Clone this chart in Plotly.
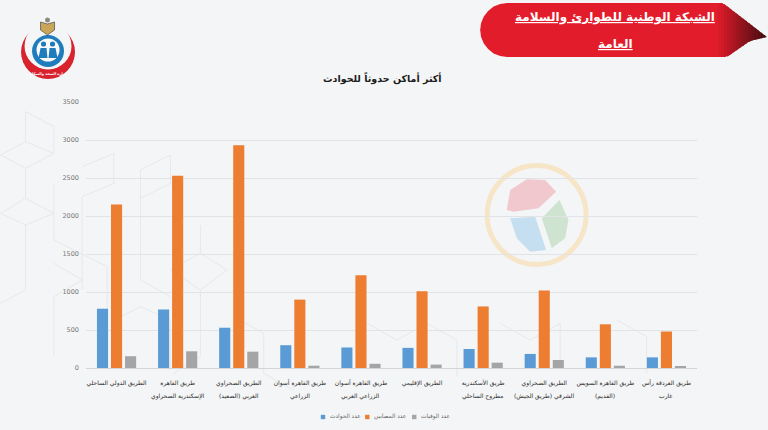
import math
import plotly.graph_objects as go

categories = [
    "الطريق الدولي الساحلي",
    "طريق القاهرة<br>الإسكندرية الصحراوي",
    "الطريق الصحراوي<br>الغربي (الصعيد)",
    "طريق القاهرة أسوان<br>الزراعي",
    "طريق القاهرة أسوان<br>الزراعي الغربي",
    "الطريق الإقليمي",
    "طريق الأسكندرية<br>مطروح الساحلي",
    "الطريق الصحراوي<br>الشرقي (طريق الجيش)",
    "طريق القاهرة السويس<br>(القديم)",
    "طريق الغردقة رأس<br>غارب",
]
incidents = [780, 770, 530, 300, 270, 265, 250, 185, 140, 140]
injured = [2150, 2530, 2930, 900, 1220, 1010, 810, 1020, 575, 480]
deaths = [155, 220, 215, 30, 55, 45, 70, 105, 30, 20]
series_names = ["عدد الحوادث", "عدد المصابين", "عدد الوفيات"]
series_colors = ["#5b9bd5", "#ed7d31", "#a5a5a5"]
y_ticks = [0, 500, 1000, 1500, 2000, 2500, 3000, 3500]

W, H = 768, 430
L, R, T, B = 85.5, 697, 102, 368
FONT = "DejaVu Sans"
BG = "#f4f5f6"


def px(x):
    return (x - L) / (R - L)


def py(y):
    return (B - y) / (B - T)


def path(points, closed=True, **kw):
    d = "M" + " L".join(f"{px(x):.4f},{py(y):.4f}" for x, y in points) + (" Z" if closed else "")
    return dict(type="path", path=d, xref="paper", yref="paper", **kw)


def circle(cx, cy, r, **kw):
    return dict(type="circle", xref="paper", yref="paper",
                x0=px(cx - r), x1=px(cx + r), y0=py(cy + r), y1=py(cy - r), **kw)


def zoomed(points, ox, oy):
    return [(ox + x / 3, oy + y / 3) for x, y in points]


shapes = []

# faint isometric background lines
bg_lines = [
    [(75, 65), (75, 155), (0, 195)],
    [(75, 65), (160, 110), (160, 190), (75, 235), (0, 195)],
    [(75, 155), (160, 190)],
    [(75, 235), (75, 325), (0, 370)],
    [(75, 325), (160, 370), (75, 405), (0, 370)],
    [(75, 405), (75, 600), (0, 640)],
    [(160, 280), (160, 450), (320, 530), (320, 700)],
    [(245, 230), (340, 190), (340, 280), (245, 320), (245, 600)],
    [(420, 240), (510, 195), (510, 280), (420, 325)],
    [(420, 240), (420, 570), (510, 620)],
    [(600, 405), (600, 490), (510, 540), (600, 600), (680, 540), (600, 490)],
    [(160, 520), (245, 570), (160, 620), (160, 800)],
    [(600, 600), (600, 800), (520, 850)],
    [(340, 690), (420, 650), (510, 690), (510, 840)],
    [(700, 680), (790, 730), (790, 850), (880, 900)],
    [(1100, 700), (1190, 750), (1280, 700), (1370, 750), (1370, 860)],
    [(1500, 700), (1590, 750), (1680, 700), (1680, 820)],
    [(1850, 690), (1940, 740), (1940, 850)],
]
for seg in bg_lines:
    shapes.append(path(zoomed(seg, 0, 90), closed=False,
                       line=dict(color="#e7e8ea", width=1), layer="below"))

# watermark
shapes.append(circle(536.5, 215, 49.5, line=dict(color="#f6e5c6", width=5),
                     fillcolor="rgba(0,0,0,0)", layer="below"))
shapes.append(path(zoomed([(110, 180), (120, 120), (170, 88), (225, 90), (258, 125),
                           (205, 175), (130, 185)], 470, 150),
                   fillcolor="#f0c8cd", line=dict(width=0), layer="below"))
shapes.append(path(zoomed([(120, 205), (195, 200), (228, 300), (180, 305), (140, 265)], 470, 150),
                   fillcolor="#c6dff0", line=dict(width=0), layer="below"))
shapes.append(path(zoomed([(268, 150), (295, 210), (285, 265), (245, 295), (215, 205)], 470, 150),
                   fillcolor="#cfe4d0", line=dict(width=0), layer="below"))


# ribbon
def ribbon_top(x):
    return 3 if x <= 723 else 3 + (x - 723) * 34 / 44


def ribbon_bottom(x):
    if x <= 727:
        return 57
    if x <= 750:
        return 57 - (x - 727) * 16 / 23
    return 41 - (x - 750) * 4 / 17


ribbon = [(507, 3), (716, 3), (716, 57), (507, 57)]
for i in range(13):
    a = math.radians(90 + 180 * i / 12)
    ribbon.append((507 + 27 * math.cos(a), 30 + 27 * math.sin(a)))
shapes.append(path(ribbon, fillcolor="#e31c2b", line=dict(width=0), layer="below"))
n_strips = 17
c0, c1 = (227, 28, 43), (70, 12, 16)
x_start, x_end = 715, 767
for i in range(n_strips):
    xa = x_start + (x_end - x_start) * i / n_strips
    xb = min(x_end, x_start + (x_end - x_start) * (i + 1) / n_strips + 1.5)
    t = i / (n_strips - 1)
    col = tuple(round(a + (b - a) * t) for a, b in zip(c0, c1))
    shapes.append(path([(xa, ribbon_top(xa)), (xb, ribbon_top(xb)),
                        (xb, ribbon_bottom(xb)), (xa, ribbon_bottom(xa))],
                       fillcolor=f"rgb{col}", line=dict(width=0), layer="below"))

# logo
LC = "#1f7dbd"
shapes.append(circle(47.5, 52, 27, fillcolor="#d8232e", line=dict(width=0)))
shapes.append(circle(47.5, 46, 23.5, fillcolor=BG, line=dict(width=0)))
shapes.append(circle(47.5, 51, 16, fillcolor=LC, line=dict(width=0)))
shapes.append(circle(47.5, 50, 11.5, fillcolor="#fbfbfb", line=dict(width=0)))
shapes.append(circle(43, 44, 2.6, fillcolor=LC, line=dict(width=0)))
shapes.append(circle(52, 44, 2.6, fillcolor=LC, line=dict(width=0)))
shapes.append(path([(38, 58), (40, 48), (46, 48), (47, 58)], fillcolor=LC, line=dict(width=0)))
shapes.append(path([(48, 58), (49, 48), (55, 48), (57, 58)], fillcolor=LC, line=dict(width=0)))
shapes.append(path([(40, 30), (40, 22), (47, 24), (54, 22), (54, 30), (47, 35)],
                   fillcolor="#c9a65a", line=dict(color="#333333", width=0.6)))
shapes.append(circle(47, 20, 2.5, fillcolor="#8a8a7a", line=dict(width=0)))

fig = go.Figure()
for name, values, color in zip(series_names, [incidents, injured, deaths], series_colors):
    fig.add_trace(go.Bar(name=name, x=categories, y=values, showlegend=False,
                         marker=dict(color=color, line=dict(width=0))))


def note(text, x, y, size, color, xref="paper"):
    return dict(text=text, x=x, y=py(y), xref=xref, yref="paper", xanchor="center",
                yanchor="middle", showarrow=False, font=dict(family=FONT, size=size, color=color))


annotations = [
    note("<b><u>الشبكة الوطنية للطوارئ والسلامة</u></b>", px(615), 18, 12, "white"),
    note("<b><u>العامة</u></b>", px(615), 44, 12, "white"),
    note("<b>أكثر أماكن حدوثاً للحوادث</b>", px(382), 79, 9.5, "#1c1c1c"),
    note("<b>وزارة الصحة والسكان</b>", px(47.5), 74, 3.6, "white"),
]

# second lines of the category labels
first_lines = [c.split("<br>")[0] for c in categories]
for c in categories:
    parts = c.split("<br>")
    if len(parts) > 1:
        annotations.append(note(parts[1], c, 396, 6, "#2a2a2a", xref="x"))

# compact legend
legend_x = [322.7, 367, 414]
for name, color, lx in zip(series_names, series_colors, legend_x):
    shapes.append(dict(type="rect", xref="paper", yref="paper", x0=px(lx - 2.2), x1=px(lx + 2.2),
                       y0=py(419.2), y1=py(414.8), fillcolor=color, line=dict(width=0)))
    annotations.append(dict(text=name, x=px(lx + 5), y=py(416), xref="paper", yref="paper",
                            xanchor="left", yanchor="middle", showarrow=False,
                            font=dict(family=FONT, size=5.8, color="#666666")))

fig.update_layout(
    width=W, height=H,
    margin=dict(l=L, r=W - R, t=T, b=H - B, autoexpand=False),
    paper_bgcolor=BG, plot_bgcolor="rgba(0,0,0,0)",
    barmode="group", bargap=0.31, bargroupgap=0.21,
    font=dict(family=FONT, size=8, color="#444444"),
    shapes=shapes, annotations=annotations, showlegend=False,
    xaxis=dict(tickmode="array", tickvals=categories, ticktext=first_lines,
               tickfont=dict(size=6, color="#2a2a2a"), tickangle=0, showline=True,
               linecolor="#d4d4d4", linewidth=1, ticks="", automargin=False,
               ticklabelstandoff=9, showgrid=False),
    yaxis=dict(range=[0, 3500], tickvals=y_ticks, ticktext=[str(v) for v in y_ticks],
               tickfont=dict(size=6.5, color="#777777"), gridcolor="#e2e3e4", gridwidth=1,
               zeroline=False, ticks="", ticklabelstandoff=6, automargin=False),
)
fig.write_html("out.html", config=dict(displayModeBar=False),
               post_script=f"document.body.style.margin='0';document.body.style.background='{BG}';")
